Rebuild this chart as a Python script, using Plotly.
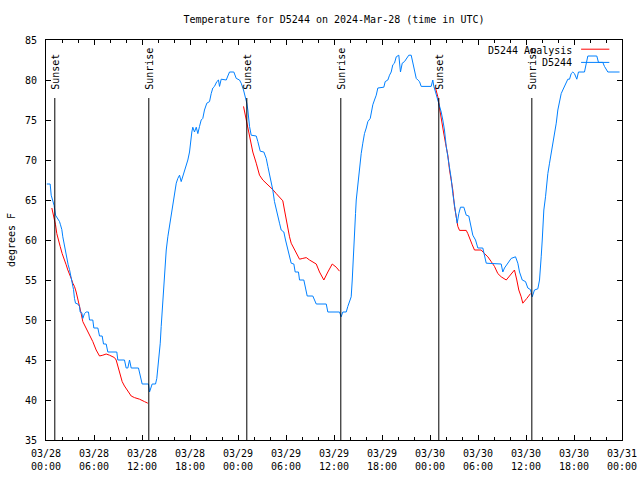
import pandas as pd
import plotly.graph_objects as go

BASE = pd.Timestamp("2024-03-28 00:00")

# Observed D5244 temperatures (hours after 2024-03-28 00:00 UTC, degrees F)
obs_hours = [
    0.10, 0.52, 0.65, 0.85, 1.02, 1.19, 1.48, 1.69, 1.81, 1.98, 2.10, 2.31, 2.44, 2.60, 2.77,
    2.94, 3.15, 3.27, 3.44, 3.56, 3.69, 3.98, 4.19, 4.27, 4.48, 4.60, 4.81, 5.02, 5.31, 5.44,
    5.85, 5.98, 6.48, 6.69, 7.02, 7.19, 7.52, 7.73, 8.85, 8.98, 9.81, 10.02, 10.23, 10.44, 10.65,
    11.56, 11.81, 12.02, 12.81, 12.94, 13.27, 13.69, 13.85, 14.10, 14.28, 14.40, 14.53, 14.60, 14.73, 14.90,
    15.03, 15.23, 15.44, 15.65, 15.78, 15.94, 16.10, 16.28, 16.48, 16.69, 16.90, 17.10, 17.35, 17.53, 17.73,
    17.94, 18.06, 18.23, 18.35, 18.56, 18.78, 18.98, 19.19, 19.40, 19.60, 19.81, 20.10, 20.44, 20.65, 20.85,
    21.06, 21.35, 21.56, 21.69, 21.90, 22.53, 22.73, 22.94, 23.48, 23.78, 24.19, 24.40, 24.69, 24.94, 25.10,
    25.23, 25.35, 25.44, 25.65, 26.28, 26.48, 26.78, 27.23, 27.53, 27.73, 27.94, 28.15, 28.35, 28.56, 28.78,
    28.98, 29.19, 29.40, 29.73, 29.94, 30.23, 30.44, 30.65, 30.98, 31.15, 31.56, 31.69, 32.23, 32.40, 32.65,
    33.35, 33.78, 35.03, 35.23, 36.69, 36.90, 37.10, 37.53, 37.73, 38.15, 38.28, 38.35, 38.44, 38.56, 38.69,
    38.78, 38.94, 39.10, 39.28, 39.40, 39.60, 39.81, 40.03, 40.23, 40.53, 40.65, 40.85, 41.06, 41.28, 41.48,
    42.23, 42.40, 42.73, 42.94, 43.15, 43.35, 43.56, 43.78, 44.10, 44.31, 44.53, 44.81, 45.10, 45.35, 45.65,
    45.85, 46.06, 46.28, 46.48, 46.69, 46.90, 48.15, 48.35, 48.48, 48.69, 48.98, 49.19, 49.40, 49.60, 49.81,
    50.03, 50.23, 50.44, 50.65, 50.85, 51.06, 51.28, 51.40, 51.60, 51.81, 52.23, 52.53, 52.85, 53.03, 53.35,
    53.69, 53.98, 54.60, 54.81, 55.03, 56.90, 57.10, 57.31, 57.73, 58.15, 58.69, 58.98, 59.19, 59.53, 59.94,
    60.23, 60.56, 60.78, 61.06, 61.48, 61.69, 61.81, 61.90, 62.03, 62.10, 62.23, 62.44, 62.60, 62.73, 62.94,
    63.15, 63.35, 63.56, 63.78, 63.98, 64.19, 64.40, 64.60, 64.81, 65.03, 65.23, 65.44, 65.65, 65.85, 66.06,
    66.35, 66.56, 67.31, 67.53, 67.73, 68.85, 69.06, 69.60, 69.81, 70.23, 71.69,
]
obs_temps = [
    67, 67, 65.6, 64.8, 64.3, 63.1, 62.7, 62.3, 61.9, 61.3, 60.4, 59.2, 58.3, 57.7, 56.9,
    56.3, 55.4, 54.6, 53.8, 52.7, 52.1, 52, 51.7, 51, 50.9, 50.2, 50.8, 51, 51, 50,
    50, 49, 49, 48, 48, 47, 47, 46, 46, 45, 45, 44, 44, 45, 44,
    44, 43, 42, 42, 41, 42, 42, 42.7, 45, 47.1, 49.2, 51.25, 53.3, 55.4, 57.1,
    58.75, 60.4, 61.7, 62.9, 64.2, 65, 66.25, 67.1, 67.7, 68.1, 67.3, 67.9, 68.75, 69.2, 70,
    71, 72.5, 73.5, 74.1, 73.5, 74.1, 73.3, 74.2, 75, 75.2, 76.25, 77.1, 77.3, 78.3, 79,
    79.2, 79.8, 80, 79.2, 80.1, 80, 80.5, 81, 81, 80.2, 80, 79.6, 78.75, 77.9, 77.1,
    76.25, 75, 74.2, 73.1, 73, 72.3, 71.1, 71, 70.2, 69.2, 68.3, 67.3, 66.25, 64.8, 63.75,
    62.9, 62.1, 61.25, 61, 60, 58.75, 57.9, 57.1, 57, 56, 56, 55, 55, 54, 53,
    53, 52, 52, 51, 51, 50.4, 51, 51, 51.7, 52.9, 55, 56.7, 59.2, 60.8, 63.3,
    65, 66.7, 67.9, 69.6, 70.8, 72.1, 73.3, 74, 74.8, 75.2, 76, 76.9, 77.5, 78.1, 79,
    79.1, 79.8, 80, 80.6, 81, 81.9, 82.1, 82.9, 83.1, 81, 82.1, 82.3, 82.7, 83.1, 83.1,
    82.3, 81.25, 80.2, 80, 79.8, 79.2, 79.2, 80, 79.2, 78.5, 77.5, 76.9, 76, 75, 73.75,
    71.7, 70.4, 69.2, 67.7, 65.8, 64.2, 62.5, 62.1, 63.3, 64.1, 64.1, 63.1, 63, 62.1, 60.6,
    60, 59, 59, 58.1, 57.1, 57, 56, 56.5, 57.1, 57.7, 57.9, 57.1, 56, 55, 54.8,
    54, 53.8, 52.9, 53.75, 53.9, 55, 56.25, 57.9, 60, 61.7, 63.75, 65.4, 67.1, 68.3, 69.6,
    70.8, 72.1, 73.3, 74.6, 76.25, 77.5, 78.3, 78.75, 79.2, 79.8, 80.1, 80.1, 80.8, 81, 80.8,
    80.1, 81, 81, 82.1, 83, 83, 82.2, 82.2, 81.7, 81, 81,
]

# Analysis temperatures, three overnight segments
ana1_hours = [0.73, 0.94, 1.19, 1.35, 1.60, 1.77, 2.02, 2.27, 2.52, 2.73, 2.94, 3.15, 3.35, 3.56, 3.77,
              3.98, 4.19, 4.40, 4.60, 4.81, 5.02, 5.44, 5.85, 6.27, 6.69, 7.10, 7.52, 7.94, 8.56, 8.77,
              8.98, 9.19, 9.52, 9.81, 10.23, 10.65, 11.06, 11.69, 12.31, 12.73]
ana1_temps = [64, 63.1, 61.9, 60.8, 60, 59.2, 58.3, 57.7, 56.9, 56.25, 55.8, 55.2, 54.6, 54.2, 53.5,
              52.7, 51.7, 50.8, 49.8, 49.4, 49, 48.1, 47.3, 46.25, 45.5, 45.6, 45.75, 45.6, 45.3, 45,
              44.2, 43.3, 42.3, 41.75, 41.2, 40.5, 40.3, 40.1, 39.8, 39.6]
ana2_hours = [24.69, 25.10, 25.44, 25.85, 26.28, 26.69, 27.10, 27.53, 27.94, 28.35, 28.78, 29.19, 29.60, 29.81,
              30.03, 30.23, 30.44, 30.65, 30.94, 31.28, 31.69, 32.10, 32.53, 32.94, 33.35, 33.78, 34.19, 34.73,
              35.23, 35.78, 36.28, 36.69]
ana2_temps = [76.7, 74.6, 72.9, 71, 69.6, 68.1, 67.5, 67.1, 66.7, 66.3, 65.8, 65.4, 64.9, 63.75,
              62.5, 61.25, 60.4, 59.6, 59, 58.3, 57.6, 57.7, 57.8, 57.5, 57.2, 57, 56, 55,
              56, 57, 56.6, 56.1]
ana3_hours = [48.69, 48.98, 49.19, 49.40, 49.69, 49.94, 50.23, 50.44, 50.65, 50.85, 51.06, 51.28, 51.48, 51.69,
              52.53, 52.73, 52.94, 53.28, 53.56, 54.40, 54.81, 55.23, 55.65, 56.06, 56.48, 56.90, 57.53, 58.03,
              58.56, 58.85, 59.10, 59.40, 59.60, 60.10, 60.56]
ana3_temps = [79, 77.9, 76.5, 75, 73.5, 72.1, 70.6, 68.75, 67.5, 66.25, 64.2, 62.9, 61.7, 61.2,
              61.2, 60.8, 60.2, 59.4, 58.75, 58.75, 58.3, 57.9, 57.3, 56.7, 55.8, 55.4, 55, 55.6,
              56.25, 55, 53.75, 52.9, 52.1, 52.7, 53.3]

# Sun events (hours after start)
event_labels = ["Sunset", "Sunrise", "Sunset", "Sunrise", "Sunset", "Sunrise"]
event_hours = [1.10, 12.85, 25.10, 36.85, 49.10, 60.73]

TITLE = "Temperature for D5244 on 2024-Mar-28 (time in UTC)"


def to_time(hours):
    return list(BASE + pd.to_timedelta(hours, unit="h"))


FONT = "DejaVu Sans Mono"

ana_x, ana_y = [], []
for hs, ts in [(ana1_hours, ana1_temps), (ana2_hours, ana2_temps), (ana3_hours, ana3_temps)]:
    if ana_x:
        ana_x.append(None)
        ana_y.append(None)
    ana_x += to_time(hs)
    ana_y += ts

fig = go.Figure()
fig.add_trace(go.Scatter(x=ana_x, y=ana_y, mode="lines", name="D5244 Analysis",
                         line=dict(color="#ff0000", width=1), connectgaps=False))
fig.add_trace(go.Scatter(x=to_time(obs_hours), y=obs_temps, mode="lines", name="D5244",
                         line=dict(color="#0080ff", width=1)))

for lab, h in zip(event_labels, event_hours):
    t = BASE + pd.Timedelta(hours=h)
    fig.add_shape(type="line", x0=t, x1=t, y0=35, y1=77.75, xref="x", yref="y",
                  line=dict(color="black", width=1))
    fig.add_annotation(x=t, y=78.5, xref="x", yref="y", text=lab, textangle=-90,
                       showarrow=False, xanchor="center", yanchor="bottom",
                       font=dict(family=FONT, size=10, color="black"))

# manual legend (text right aligned, sample on the right)
leg = [("D5244 Analysis", "#ff0000", 0.973, 0.977), ("D5244", "#0080ff", 0.943, 0.944)]
for name, col, ty, ly in leg:
    fig.add_annotation(x=0.916, y=ty, xref="paper", yref="paper", text=name, showarrow=False,
                       xanchor="right", yanchor="middle", font=dict(family=FONT, size=10, color="black"))
    fig.add_shape(type="line", x0=0.929, x1=0.978, y0=ly, y1=ly, xref="paper", yref="paper",
                  line=dict(color=col, width=1))

fig.update_layout(
    width=640, height=480,
    margin=dict(l=46, r=18, t=40, b=40, autoexpand=False),
    paper_bgcolor="white", plot_bgcolor="white",
    showlegend=False,
    font=dict(family=FONT, size=10, color="black"),
    title=dict(text=TITLE, x=0.5, xref="paper", y=1 - 19 / 480, yanchor="middle",
               font=dict(family=FONT, size=10, color="black")),
)
fig.update_xaxes(
    type="date", automargin=False,
    range=[BASE, BASE + pd.Timedelta(days=3)],
    dtick=6 * 3600 * 1000, tick0=BASE,
    tickformat="%m/%d<br>%H:%M",
    ticks="inside", ticklen=5, tickcolor="black",
    minor=dict(dtick=2 * 3600 * 1000, ticks="inside", ticklen=3, tickcolor="black"),
    showline=True, linecolor="black", linewidth=1, mirror="allticks",
    showgrid=False, zeroline=False, ticklabelstandoff=4,
    tickfont=dict(family=FONT, size=10, color="black"),
)
fig.update_yaxes(
    range=[35, 85], dtick=5, tick0=35, automargin=False,
    ticks="inside", ticklen=5, tickcolor="black",
    showline=True, linecolor="black", linewidth=1, mirror="allticks",
    showgrid=False, zeroline=False, ticklabelstandoff=6,
    tickfont=dict(family=FONT, size=10, color="black"),
    title=dict(text="degrees F", font=dict(family=FONT, size=10, color="black"), standoff=7),
)

fig.write_html(
    "out.html",
    config={"displayModeBar": False},
    post_script="document.body.style.margin='0';document.body.style.overflow='hidden';",
)
